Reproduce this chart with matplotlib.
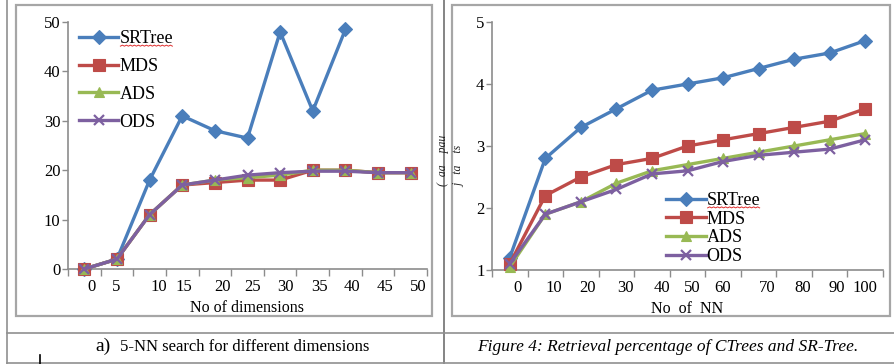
import numpy as np
import matplotlib.pyplot as plt
from matplotlib.lines import Line2D
from matplotlib.patches import Rectangle

# ── Data ─────────────────────────────────────────────────────────────────────
dim_labels = ["0", "5", "10", "15", "20", "25", "30", "35", "40", "45", "50"]
dim_srtree = [0, 2, 18, 31, 28, 26.5, 48, 32, 48.5, np.nan, np.nan]
dim_mds    = [0, 2, 11, 17, 17.5, 18, 18, 20, 20, 19.5, 19.5]
dim_ads    = [0, 2, 11, 17, 18, 18.5, 19, 20, 20, 19.5, 19.5]
dim_ods    = [0, 2, 11, 17, 18, 19, 19.5, 19.8, 19.8, 19.5, 19.5]

nn_labels = ["0", "10", "20", "30", "40", "50", "60", "70", "80", "90", "100"]
nn_srtree = [1.2, 2.8, 3.3, 3.6, 3.9, 4.0, 4.1, 4.25, 4.4, 4.5, 4.7]
nn_mds    = [1.1, 2.2, 2.5, 2.7, 2.8, 3.0, 3.1, 3.2, 3.3, 3.4, 3.6]
nn_ads    = [1.05, 1.9, 2.1, 2.4, 2.6, 2.7, 2.8, 2.9, 3.0, 3.1, 3.2]
nn_ods    = [1.1, 1.9, 2.1, 2.3, 2.55, 2.6, 2.75, 2.85, 2.9, 2.95, 3.1]

# label offsets as they sit in the scan (slightly off the category centres)
dim_label_pos = [0.21, 0.98, 2.29, 3.04, 4.24, 5.17, 6.17, 7.2, 8.2, 9.2, 10.22]
nn_label_pos  = [0.22, 1.24, 2.2, 3.26, 4.27, 5.14, 5.98, 7.25, 8.23, 9.2, 10.0]

# ── Style ────────────────────────────────────────────────────────────────────
BLUE   = "#4a7ebb"
RED    = "#be4b48"
GREEN  = "#98b954"
PURPLE = "#7d60a0"
AXIS   = "#8c8c8c"
BOX    = "#a6a6a6"
SERIF  = "Liberation Serif"

plt.rcParams["font.family"] = SERIF

W, H = 894, 364
fig = plt.figure(figsize=(W / 100, H / 100), dpi=100, facecolor="white")


def fx(px):
    return px / W


def fy(py):
    return 1 - py / H


series_style = [
    ("SRTree", BLUE, "D", 7.0),
    ("MDS", RED, "s", 8.0),
    ("ADS", GREEN, "^", 7.5),
    ("ODS", PURPLE, "x", 7.5),
]


def draw_panel(rect, data, ylim, yticks, label_pos, labels, xlabel):
    ax = fig.add_axes(rect)
    x = np.arange(len(labels))
    for (name, col, mk, ms), ys in zip(series_style, data):
        ax.plot(x, ys, color=col, lw=2.4, marker=mk, ms=ms, mfc=col, mec=col,
                mew=1.6 if mk == "x" else 0.8, label=name, clip_on=False,
                zorder=3)
    ax.set_xlim(-0.5, len(labels) - 0.5)
    ax.set_ylim(*ylim)
    ax.set_yticks(yticks)
    ax.set_yticklabels([str(v) for v in yticks], fontsize=12)
    ax.set_xticks(np.arange(len(labels) + 1) - 0.5, minor=True)
    ax.set_xticks(label_pos)
    ax.set_xticklabels(labels, fontsize=12)
    ax.tick_params(axis="x", which="major", length=0, pad=7)
    ax.tick_params(axis="x", which="minor", length=5, color=AXIS, width=1)
    ax.tick_params(axis="y", length=4, color=AXIS, width=1, pad=1.5)
    for s in ("top", "right"):
        ax.spines[s].set_visible(False)
    for s in ("left", "bottom"):
        ax.spines[s].set_color(AXIS)
        ax.spines[s].set_linewidth(1.2)
    ax.set_xlabel(xlabel, fontsize=11.5, labelpad=4)
    return ax


# left panel: 5-NN search for different dimensions
ax1 = draw_panel([fx(68), fy(269), fx(427 - 68), fy(22) - fy(269)],
                 [dim_srtree, dim_mds, dim_ads, dim_ods],
                 (0, 50), [0, 10, 20, 30, 40, 50],
                 dim_label_pos, dim_labels, "No of dimensions")
leg1 = ax1.legend(loc="upper left", bbox_to_anchor=(0.03, 0.967), frameon=False,
                  fontsize=13, handlelength=2.2, handletextpad=0.05,
                  labelspacing=0.6, borderaxespad=0, borderpad=0)

# right panel: retrieval vs number of NN
ax2 = draw_panel([fx(492), fy(270), fx(883 - 492), fy(22) - fy(270)],
                 [nn_srtree, nn_mds, nn_ads, nn_ods],
                 (1, 5), [1, 2, 3, 4, 5],
                 nn_label_pos, nn_labels, "No  of  NN")
leg2 = ax2.legend(loc="upper left", bbox_to_anchor=(0.445, 0.315), frameon=False,
                  fontsize=13, handlelength=2.2, handletextpad=0.05,
                  labelspacing=0.1, borderaxespad=0, borderpad=0)

# ── Table / box frame of the scanned page ────────────────────────────────────
fig.add_artist(Rectangle((fx(16), fy(316)), fx(432 - 16), fy(5) - fy(316),
                         transform=fig.transFigure, fill=False,
                         ec=BOX, lw=1.6))
fig.add_artist(Rectangle((fx(452), fy(316)), fx(890 - 452), fy(5) - fy(316),
                         transform=fig.transFigure, fill=False,
                         ec=BOX, lw=1.6))
for xs, ys, c in [
    ([7, 7], [0, 364], "#909090"),
    ([444, 444], [0, 364], "#707070"),
    ([7, 894], [333, 333], "#909090"),
    ([7, 894], [363, 363], "#909090"),
    ([40, 40], [355, 364], "black"),
]:
    fig.add_artist(Line2D([fx(v) for v in xs], [fy(v) for v in ys],
                          transform=fig.transFigure, color=c, lw=1.2))

# clipped, rotated fragments of a label on the scan
fig.text(fx(443), fy(160), "(  aa    pau", rotation=90, fontsize=8.5,
         ha="center", va="center", style="italic", color="#222222")
fig.text(fx(459), fy(166), "j   ta    ts", rotation=90, fontsize=8.5,
         ha="center", va="center", style="italic", color="#222222")

# captions
fig.text(fx(103), fy(346), "a)", fontsize=14, ha="center", va="center")
fig.text(fx(245), fy(347), "5-NN search for different dimensions",
         fontsize=12, ha="center", va="center")
fig.text(fx(668), fy(347), "Figure 4: Retrieval percentage of CTrees and SR-Tree.",
         fontsize=12.5, style="italic", ha="center", va="center")

# red spell-check squiggle under "SRTree" in both legends
fig.canvas.draw()
renderer = fig.canvas.get_renderer()
for leg in (leg1, leg2):
    bb = leg.get_texts()[0].get_window_extent(renderer)
    xs = np.arange(bb.x0 + 1, bb.x1, 2.0)
    ys = bb.y0 + 1 + 1.0 * (np.arange(len(xs)) % 2)
    fig.add_artist(Line2D(xs / W, ys / H, transform=fig.transFigure,
                          color="#e03030", lw=0.7))

fig.savefig("out.png", dpi=100, facecolor="white")
